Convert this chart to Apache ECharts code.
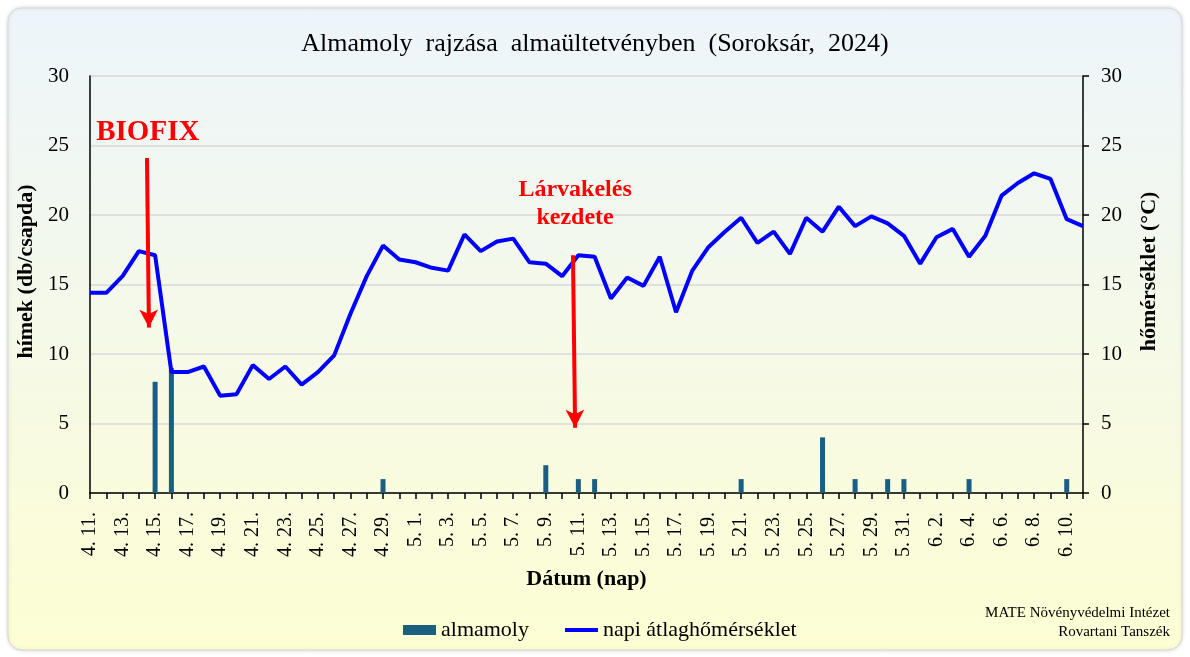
<!DOCTYPE html>
<html><head><meta charset="utf-8">
<script src="https://cdn.jsdelivr.net/npm/echarts@6/dist/echarts.min.js"></script>
<style>html,body{margin:0;padding:0;background:#fff}#c{width:1190px;height:657px}</style>
</head><body><div id="c"></div>
<script>
const categories = [
 "4. 11.","4. 12.","4. 13.","4. 14.","4. 15.","4. 16.","4. 17.","4. 18.","4. 19.","4. 20.",
 "4. 21.","4. 22.","4. 23.","4. 24.","4. 25.","4. 26.","4. 27.","4. 28.","4. 29.","4. 30.",
 "5. 1.","5. 2.","5. 3.","5. 4.","5. 5.","5. 6.","5. 7.","5. 8.","5. 9.","5. 10.",
 "5. 11.","5. 12.","5. 13.","5. 14.","5. 15.","5. 16.","5. 17.","5. 18.","5. 19.","5. 20.",
 "5. 21.","5. 22.","5. 23.","5. 24.","5. 25.","5. 26.","5. 27.","5. 28.","5. 29.","5. 30.",
 "5. 31.","6. 1.","6. 2.","6. 3.","6. 4.","6. 5.","6. 6.","6. 7.","6. 8.","6. 9.",
 "6. 10.","6. 11."
];
const almamoly = [
 0,0,0,0,8,9,0,0,0,0,
 0,0,0,0,0,0,0,0,1,0,
 0,0,0,0,0,0,0,0,2,0,
 1,1,0,0,0,0,0,0,0,0,
 1,0,0,0,0,4,0,1,0,1,
 1,0,0,0,1,0,0,0,0,0,
 1,0
];
const temperature = [
 14.4,14.4,15.6,17.4,17.1,8.7,8.7,9.1,7.0,7.1,
 9.2,8.2,9.1,7.8,8.7,9.9,12.9,15.6,17.8,16.8,
 16.6,16.2,16.0,18.6,17.4,18.1,18.3,16.6,16.5,15.6,
 17.1,17.0,14.0,15.5,14.9,17.0,13.0,16.0,17.7,18.8,
 19.8,18.0,18.8,17.2,19.8,18.8,20.6,19.2,19.9,19.4,
 18.5,16.5,18.4,19.0,17.0,18.5,21.4,22.3,23.0,22.6,
 19.7,19.2
];
// annotations: [category position (index), value]
const annotationTexts = [
 {name: "BIOFIX", value: [3.55, 25.9], size: 29},
 {name: "Lárvakelés", value: [29.8, 21.8], size: 24},
 {name: "kezdete", value: [29.8, 19.8], size: 24}
];
const arrows = [
 [[3.5, 24.1], [3.62, 11.9]],
 [[29.67, 17.1], [29.8, 4.7]]
];

const FONT = "'Liberation Serif','Times New Roman',serif";
const chart = echarts.init(document.getElementById('c'));
chart.setOption({
  animation: false,
  graphic: [{
    type: 'rect', z: -10, silent: true,
    shape: {x: 8, y: 8, width: 1174, height: 642, r: 14},
    style: {
      fill: new echarts.graphic.LinearGradient(0, 0, 0, 1, [
        {offset: 0, color: '#edf5fb'},
        {offset: 0.5, color: '#f5f9e8'},
        {offset: 1, color: '#fdfed3'}
      ]),
      stroke: '#d6d6d6', lineWidth: 1,
      shadowBlur: 4, shadowColor: 'rgba(0,0,0,0.15)'
    }
  }, {
    type: 'text', right: 20, top: 604, silent: true,
    style: {text: 'MATE Növényvédelmi Intézet\nRovartani Tanszék', font: '15px ' + FONT, fill: '#000', textAlign: 'right', lineHeight: 19}
  }],
  title: {
    text: 'Almamoly  rajzása  almaültetvényben  (Soroksár,  2024)',
    left: 'center', top: 26,
    textStyle: {fontFamily: FONT, fontSize: 26, fontWeight: 'normal', color: '#000'}
  },
  grid: {left: 90, right: 107, top: 76, bottom: 164},
  legend: {
    left: 398, top: 614, itemGap: 36, itemWidth: 33, itemHeight: 10,
    textStyle: {fontFamily: FONT, fontSize: 22, color: '#000'},
    data: [
      {name: 'almamoly', icon: 'rect'},
      {name: 'napi átlaghőmérséklet', icon: 'path://M0,0L1,0Z M0,3H33V7H0Z M0,10L1,10Z',
       itemStyle: {color: '#0000ff', borderWidth: 0}}
    ]
  },
  xAxis: [{
    type: 'category', data: categories, boundaryGap: false,
    name: 'Dátum (nap)', nameLocation: 'middle', nameGap: 75,
    nameTextStyle: {fontFamily: FONT, fontSize: 22, fontWeight: 'bold', color: '#000'},
    axisLine: {lineStyle: {color: '#000', width: 1.5}},
    axisTick: {show: true, interval: 0, length: 6, lineStyle: {color: '#000', width: 1.5}},
    axisLabel: {interval: 1, rotate: 90, margin: 19, fontFamily: FONT, fontSize: 20, color: '#000'},
    splitLine: {show: false}
  }, {
    type: 'value', min: 0, max: 61, show: false
  }],
  yAxis: [{
    type: 'value', min: 0, max: 30, interval: 5,
    name: 'hímek (db/csapda)', nameLocation: 'middle', nameGap: 52,
    nameTextStyle: {fontFamily: FONT, fontSize: 22, fontWeight: 'bold', color: '#000', padding: [0, 0, 0, 26]},
    axisLine: {show: true, lineStyle: {color: '#000', width: 1.5}},
    axisTick: {show: false},
    axisLabel: {margin: 21, fontFamily: FONT, fontSize: 21, color: '#000'},
    splitLine: {lineStyle: {color: '#d9d9d9', width: 1.5}}
  }, {
    type: 'value', min: 0, max: 30, interval: 5, position: 'right',
    name: 'hőmérséklet (°C)', nameLocation: 'middle', nameGap: 55,
    nameTextStyle: {fontFamily: FONT, fontSize: 22, fontWeight: 'bold', color: '#000', padding: [0, 0, 0, 26]},
    axisLine: {show: true, lineStyle: {color: '#000', width: 1.5}},
    axisTick: {show: true, length: 6, lineStyle: {color: '#000', width: 1.5}},
    axisLabel: {margin: 18, fontFamily: FONT, fontSize: 21, color: '#000'},
    splitLine: {show: false}
  }],
  series: [{
    name: 'almamoly', type: 'bar', data: almamoly, barWidth: 5,
    itemStyle: {color: '#1b5e82'}, z: 2
  }, {
    name: 'napi átlaghőmérséklet', type: 'line', yAxisIndex: 1, data: temperature,
    symbol: 'none', showSymbol: false,
    lineStyle: {color: '#0000ff', width: 4}, itemStyle: {color: '#0000ff'}, z: 3
  }, {
    name: 'annot', type: 'scatter', xAxisIndex: 1, yAxisIndex: 0, z: 5,
    symbolSize: 0, silent: true, itemStyle: {opacity: 1},
    data: annotationTexts.map(a => ({name: a.name, value: a.value,
      label: {show: true, position: 'inside', formatter: '{b}', fontFamily: FONT,
        fontSize: a.size, fontWeight: 'bold', color: '#ff0000', opacity: 1}})),
    markLine: {
      silent: true, symbol: ['none', 'arrow'], symbolSize: [14, 18],
      label: {show: false},
      lineStyle: {color: '#ff0000', width: 4, type: 'solid', opacity: 1},
      data: arrows.map(a => [{coord: a[0]}, {coord: a[1]}])
    }
  }]
});
</script></body></html>
